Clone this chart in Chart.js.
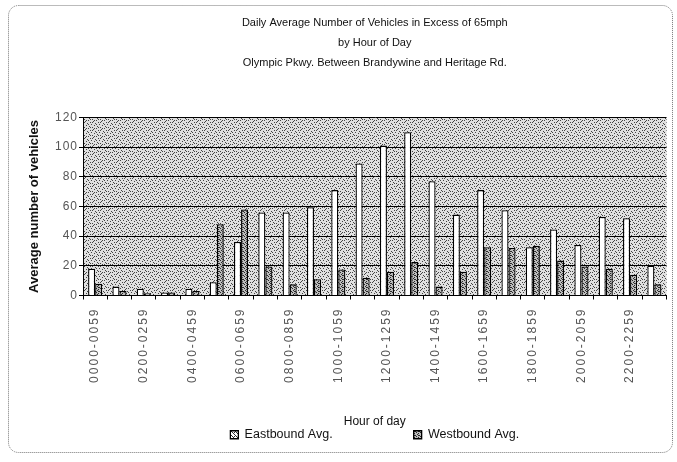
<!DOCTYPE html>
<html>
<head>
<meta charset="utf-8">
<script src="https://cdn.jsdelivr.net/npm/chart.js@4/dist/chart.umd.min.js"></script>
<style>
  html, body { margin: 0; padding: 0; background: #fff; }
  #wrap { width: 677px; height: 462px; }
</style>
</head>
<body>
<div id="wrap"><canvas id="speedChart"></canvas></div>
<script>
// Hour buckets on the x axis
const hours = [
    '0000-0059', '0100-0159', '0200-0259', '0300-0359', '0400-0459', '0500-0559',
    '0600-0659', '0700-0759', '0800-0859', '0900-0959', '1000-1059', '1100-1159',
    '1200-1259', '1300-1359', '1400-1459', '1500-1559', '1600-1659', '1700-1759',
    '1800-1859', '1900-1959', '2000-2059', '2100-2159', '2200-2259', '2300-2359'
];

// Average vehicles over 65mph
const eastbound = [18, 6, 4.5, 2, 4.5, 9, 36, 56, 56, 59.5, 71, 89, 101, 110, 77, 54.5, 71, 57.5, 32.5, 44.5, 34, 53, 52, 20];
const westbound = [8, 3, 1.5, 2, 3, 48, 58, 19.5, 7.5, 11, 17.5, 12, 16, 22.5, 6, 16, 32.5, 32, 33.5, 23.5, 19.5, 18, 14, 7.5];

const yTicks = [0, 20, 40, 60, 80, 100, 120];

// small stipple tiles to imitate the old print look
function makePattern(size, bg, dot, dots) {
    const c = document.createElement('canvas');
    c.width = size;
    c.height = size;
    const g = c.getContext('2d');
    g.fillStyle = bg;
    g.fillRect(0, 0, size, size);
    g.fillStyle = dot;
    dots.forEach(p => g.fillRect(p[0], p[1], 1, 1));
    return g.createPattern(c, 'repeat');
}

const plotFill = makePattern(8, '#e0e0e0', '#444', [
    [0, 0], [5, 1], [2, 2], [7, 3], [3, 4], [6, 5], [1, 6], [4, 7], [6, 0], [0, 4], [2, 7], [4, 2]
]);
const westFill = makePattern(4, '#bdbdbd', '#2a2a2a', [[0, 0], [2, 1], [1, 2], [3, 3], [2, 3]]);
const eastKey = makePattern(4, '#ffffff', '#333', [[0, 0], [1, 1], [2, 2], [3, 3], [2, 0]]);

// wrap a scale's label drawing so the text gets a bit of letter spacing
function spaceLabels(scale, spacing) {
    if (!scale || scale._spaced) return;
    const orig = scale.drawLabels.bind(scale);
    scale.drawLabels = function(area) {
        this.ctx.save();
        this.ctx.letterSpacing = spacing;
        orig(area);
        this.ctx.restore();
    };
    scale._spaced = true;
}

const backdrop = {
    id: 'backdrop',
    beforeDraw(chart) {
        const ctx = chart.ctx;
        const a = chart.chartArea;
        spaceLabels(chart.scales.x, '2px');
        spaceLabels(chart.scales.y, '1px');
        ctx.save();
        ctx.fillStyle = '#fff';
        ctx.fillRect(0, 0, chart.width, chart.height);
        // outer frame
        ctx.strokeStyle = '#777';
        ctx.lineWidth = 1;
        ctx.setLineDash([1, 1]);
        ctx.beginPath();
        ctx.roundRect(8.5, 5.5, 664, 447, 10);
        ctx.stroke();
        ctx.setLineDash([]);
        ctx.fillStyle = plotFill;
        ctx.fillRect(a.left, a.top, a.right - a.left, a.bottom - a.top);
        ctx.restore();
    }
};

function createSpeedChart() {
    const ctx = document.getElementById('speedChart').getContext('2d');
    new Chart(ctx, {
        type: 'bar',
        data: {
            labels: hours,
            datasets: [
                {
                    label: 'Eastbound Avg.',
                    data: eastbound,
                    backgroundColor: '#ffffff',
                    borderColor: '#000',
                    borderWidth: 1.3,
                    barPercentage: 1.0,
                    categoryPercentage: 0.58
                },
                {
                    label: 'Westbound Avg.',
                    data: westbound,
                    backgroundColor: westFill,
                    borderColor: '#000',
                    borderWidth: 1.3,
                    barPercentage: 1.0,
                    categoryPercentage: 0.58
                }
            ]
        },
        options: {
            responsive: true,
            maintainAspectRatio: false,
            animation: false,
            layout: {
                padding: { top: 2, right: 9, bottom: 11, left: 10 }
            },
            scales: {
                x: {
                    afterFit: axis => {
                        axis.height = 127;
                    },
                    grid: {
                        display: true,
                        drawOnChartArea: false,
                        color: '#000',
                        tickLength: 4
                    },
                    border: { color: '#000', width: 1 },
                    ticks: {
                        autoSkip: false,
                        minRotation: 90,
                        maxRotation: 90,
                        padding: 8,
                        color: '#555',
                        font: { family: 'Liberation Sans', size: 12 },
                        callback: (v, i) => (i % 2 === 0 ? hours[i] : '')
                    },
                    title: {
                        display: true,
                        text: 'Hour of day',
                        color: '#111',
                        font: { family: 'Liberation Sans', size: 12 },
                        padding: { top: 4, bottom: -6 }
                    }
                },
                y: {
                    min: 0,
                    max: 120,
                    afterFit: axis => {
                        axis.width = 73;
                    },
                    afterBuildTicks: axis => {
                        axis.ticks = yTicks.map(v => ({ value: v }));
                    },
                    grid: {
                        color: '#000',
                        lineWidth: 1,
                        tickLength: 4
                    },
                    border: { color: '#000', width: 1 },
                    ticks: {
                        color: '#555',
                        font: { family: 'Liberation Sans', size: 12 },
                        padding: 1
                    },
                    title: {
                        display: true,
                        text: 'Average number of vehicles',
                        color: '#111',
                        font: { family: 'Liberation Sans', size: 13, weight: 'bold' },
                        padding: { top: 17, bottom: 0 }
                    }
                }
            },
            plugins: {
                title: {
                    display: true,
                    fullSize: false,
                    text: [
                        'Daily Average Number of Vehicles in Excess of 65mph',
                        'by Hour of Day',
                        'Olympic Pkwy. Between Brandywine and Heritage Rd.'
                    ],
                    color: '#111',
                    font: { family: 'Liberation Sans', size: 11, weight: 'normal', lineHeight: 1.8 },
                    padding: { top: 11, bottom: 45 }
                },
                legend: {
                    position: 'bottom',
                    fullSize: false,
                    labels: {
                        boxWidth: 8,
                        boxHeight: 8,
                        padding: 6,
                        color: '#111',
                        font: { family: 'Liberation Sans', size: 12.5 },
                        generateLabels: chart => {
                            const items = Chart.defaults.plugins.legend.labels.generateLabels(chart);
                            // wide gap between the two entries, as in the original
                            items[0].text = items[0].text + '\u2003'.repeat(6);
                            items[0].fillStyle = eastKey;
                            return items;
                        }
                    }
                },
                tooltip: { enabled: false }
            }
        },
        plugins: [backdrop]
    });
}

window.onload = function() {
    createSpeedChart();
};
</script>
</body>
</html>
